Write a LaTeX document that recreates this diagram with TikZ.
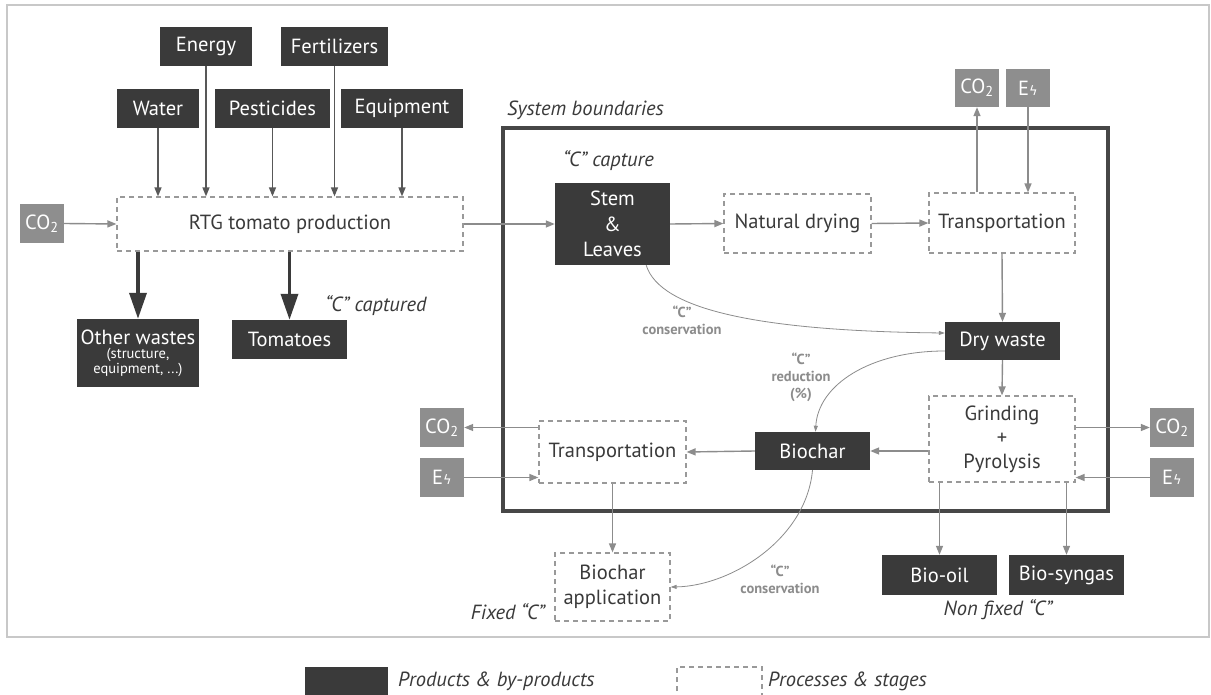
\documentclass[tikz,border=0pt]{standalone}
\usepackage{fontspec}
\setmainfont{PT Sans}
\newfontfamily\symfont{DejaVu Sans}
\usetikzlibrary{arrows.meta,calc}
\definecolor{dk}{HTML}{3A3A3A}
\definecolor{gb}{HTML}{8E8E8E}
\definecolor{ar}{HTML}{8C8C8C}
\definecolor{dsh}{HTML}{999999}
\definecolor{sysc}{HTML}{474747}
\definecolor{frm}{HTML}{C8C8C8}
\tikzset{
  dark/.style={fill=dk,text=white,inner sep=0pt,font=\fontsize{20.5}{22}\selectfont,align=center},
  gbox/.style={fill=gb,text=white,inner sep=0pt,minimum width=44pt,font=\fontsize{20.5}{22}\selectfont},
  proc/.style={draw=dsh,line width=1.2pt,dash pattern=on 5pt off 4pt,inner sep=0pt,text=dk,font=\fontsize{20.5}{22}\selectfont,align=center},
  arr/.style={draw=ar,line width=1.4pt,-{Triangle[length=9pt,width=7pt]}},
  thin/.style={draw=ar,line width=0.8pt,-{Triangle[length=6pt,width=4pt]}},
  bigarr/.style={draw=dk,line width=3.5pt,-{Triangle[length=26pt,width=17pt]}},
  lbl/.style={text=ar,font=\bfseries\fontsize{14.5}{17}\selectfont,align=center,inner sep=0pt},
  itl/.style={text=dk,font=\itshape\fontsize{20.5}{22}\selectfont,inner sep=0pt},
}
\newcommand{\cotwo}{CO\textsubscript{2}}
\newcommand{\elec}{E{\symfont\fontsize{13}{13}\selectfont ϟ}}
\begin{document}
\begin{tikzpicture}[x=1pt,y=-1pt]
\useasboundingbox (0,0) rectangle (1211,695);
\fill[white] (0,0) rectangle (1211,695);
\draw[frm,line width=1.5pt] (7,5) rectangle (1209,637);
% system boundary
\draw[sysc,line width=4pt] (503,128) rectangle (1108,511);
\node[itl,anchor=west] (sysl) at (507,110) {System boundaries};
% inputs
\node[dark,minimum width=92pt,minimum height=39pt] (energy) at (206,46.5) {Energy};
\node[dark,minimum width=107pt,minimum height=39pt] (fert) at (334.5,46.5) {Fertilizers};
\node[dark,minimum width=82pt,minimum height=39pt] (water) at (158,108.5) {Water};
\node[dark,minimum width=115pt,minimum height=39pt] (pest) at (272.5,108.5) {Pesticides};
\node[dark,minimum width=122pt,minimum height=39pt] (equip) at (402,108.5) {Equipment};
\node[proc,minimum width=346pt,minimum height=54pt] (rtg) at (290,224) {RTG tomato production};
\node[gbox,minimum height=39pt] (co2l) at (42,223.5) {\cotwo};
\node[dark,minimum width=122pt,minimum height=68pt,font=\fontsize{20.5}{15}\selectfont] (ow) at (138,353) {Other wastes\\[-1pt]{\fontsize{14.5}{16.5}\selectfont (structure,}\\{\fontsize{14.5}{16.5}\selectfont equipment, ...)}};
\node[dark,minimum width=115pt,minimum height=39pt] (tom) at (289.5,339.5) {Tomatoes};
\node[itl] (capd) at (376,306) {“C” captured};
% system nodes
\node[itl,anchor=west] (capt) at (563,161) {“C” capture};
\node[dark,minimum width=115pt,minimum height=82pt,font=\fontsize{20.5}{25.5}\selectfont] (stem) at (612.5,224) {Stem\\\&\\Leaves};
\node[proc,minimum width=147pt,minimum height=59pt] (nd) at (797.5,223.5) {Natural drying};
\node[proc,minimum width=146pt,minimum height=60pt] (tt) at (1002,223) {Transportation};
\node[gbox,minimum height=38pt] (co2t) at (977,88) {\cotwo};
\node[gbox,minimum height=38pt] (et) at (1028,88) {\elec};
\node[dark,minimum width=115pt,minimum height=38pt] (dw) at (1002.5,341) {Dry waste};
\node[proc,minimum width=146pt,minimum height=86pt,font=\fontsize{20.5}{24}\selectfont] (gp) at (1002,439) {Grinding\\+\\Pyrolysis};
\node[dark,minimum width=115pt,minimum height=38pt] (bc) at (812.5,451) {Biochar};
\node[proc,minimum width=147pt,minimum height=62pt] (tb) at (612.5,452) {Transportation};
\node[gbox,minimum height=39pt] (co2b) at (442,427.5) {\cotwo};
\node[gbox,minimum height=39pt] (eb) at (442,477.5) {\elec};
\node[gbox,minimum height=39pt] (co2r) at (1172,427.5) {\cotwo};
\node[gbox,minimum height=39pt] (er) at (1172,477.5) {\elec};
\node[proc,minimum width=115pt,minimum height=68pt,font=\fontsize{20.5}{25}\selectfont] (ba) at (612.5,587) {Biochar\\application};
\node[itl,anchor=east] (fixc) at (545,612) {Fixed “C”};
\node[dark,minimum width=115pt,minimum height=40pt] (bo) at (939.5,575) {Bio-oil};
\node[dark,minimum width=115pt,minimum height=40pt] (bs) at (1066.5,575) {Bio-syngas};
\node[itl] (nfc) at (998,610) {Non fixed “C”};
% legend
\fill[dk] (305,667) rectangle (388,700);
\node[itl,anchor=west] (l1) at (398,681) {Products \& by-products};
\draw[dsh,line width=1.2pt,dash pattern=on 5pt off 4pt] (677,700) -- (677,667) -- (762,667) -- (762,700);
\node[itl,anchor=west] (l2) at (768,681) {Processes \& stages};
% arrows: inputs
\foreach \n in {water,energy,pest,fert,equip}{
  \draw[arr,draw=dk!85] (\n.south) -- (\n.south |- rtg.north);
}
\draw[arr] (co2l.east) -- (rtg.west);
\draw[bigarr] (ow.north |- rtg.south) -- (ow.north);
\draw[bigarr] (tom.north |- rtg.south) -- (tom.north);
\draw[arr] (rtg.east) -- (stem.west);
\draw[arr] (stem.east) -- (nd.west);
\draw[arr] (nd.east) -- (tt.west);
\draw[arr] (co2t.south |- tt.north) -- (co2t.south);
\draw[arr] (et.south) -- (et.south |- tt.north);
\draw[arr] (tt.south) -- (dw.north);
\draw[arr] (dw.south) -- (gp.north);
\draw[arr] (bc.east -| gp.west) -- (bc.east);
\draw[arr] (bc.west) -- (tb.east);
\draw[arr] (co2b.east -| tb.west) -- (co2b.east);
\draw[arr] (eb.east) -- (eb.east -| tb.west);
\draw[arr] (tb.south) -- (ba.north);
\draw[arr] (co2r.west -| gp.east) -- (co2r.west);
\draw[arr] (er.west) -- (er.west -| gp.east);
\draw[arr] (bo.north |- gp.south) -- (bo.north);
\draw[arr] (bs.north |- gp.south) -- (bs.north);
% curves
\coordinate (s1) at ($(stem.south east)+(-24,0)$);
\draw[thin] (s1) .. controls (660,310) and (760,331) .. ([yshift=8pt]dw.west);
\draw[thin] ([yshift=-10pt]dw.west) .. controls (870,351) and (818,385) .. ([xshift=3pt]bc.north);
\draw[thin] (bc.south) .. controls (806,540) and (730,586) .. (ba.east);
\node[lbl] (c1) at (682,320) {“C”\\conservation};
\node[lbl] (c2) at (801,377) {“C”\\reduction\\(\%)};
\node[lbl] (c3) at (780,579) {“C”\\conservation};
\end{tikzpicture}
\end{document}
